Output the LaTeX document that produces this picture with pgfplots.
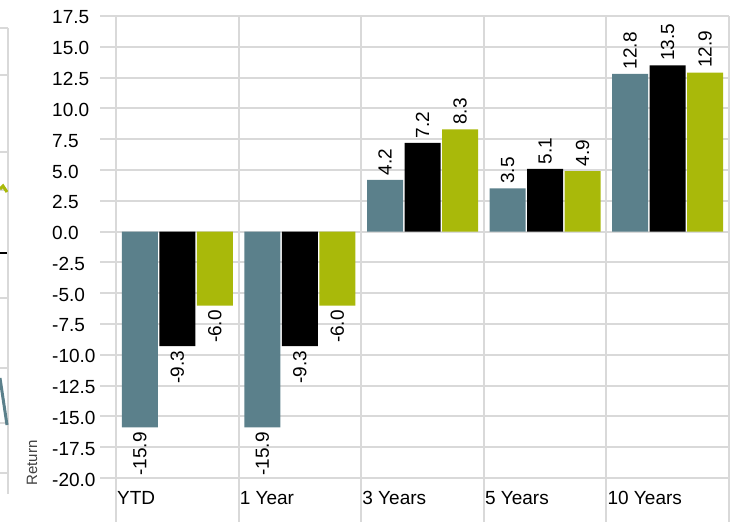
\documentclass[border=0pt]{standalone}
\usepackage{pgfplots}
\usepackage{pgfplotstable}
\pgfplotsset{compat=1.18}
\usepackage{fontspec}
\setmainfont{Liberation Sans}

\definecolor{tealbar}{HTML}{5B808B}
\definecolor{limebar}{HTML}{A9B90A}
\definecolor{gridcol}{HTML}{D9D9D9}

% series: category index, return
\pgfplotstableread{
x y
0 -15.9
1 -15.9
2 4.2
3 3.5
4 12.8
}\fundA
\pgfplotstableread{
x y
0 -9.3
1 -9.3
2 7.2
3 5.1
4 13.5
}\fundB
\pgfplotstableread{
x y
0 -6.0
1 -6.0
2 8.3
3 4.9
4 12.9
}\fundC

\pgfplotsset{
  negbars/.style={restrict y to domain=-100:0, every node near coord/.append style={anchor=north}},
  posbars/.style={restrict y to domain=0:100, every node near coord/.append style={anchor=south}},
  slot/.style={bar shift=#1, every node near coord/.append style={xshift=#1}},
}

\begin{document}
\begin{tikzpicture}
\useasboundingbox (0,0) rectangle (736pt,522pt);

% cut-off neighbour chart at the left edge (pixel coordinates)
\begin{axis}[
  width=736pt, height=522pt, scale only axis,
  xmin=0, xmax=736, ymin=0, ymax=522, y dir=reverse,
  axis lines=none, clip=true,
]
  \draw[gridcol, line width=2pt] (axis cs:8,28) -- (axis cs:8,494);
  \pgfplotsinvokeforeach{28,75,152,190,298,368,423,473}{
    \draw[gridcol, line width=2pt] (axis cs:0,#1) -- (axis cs:8,#1);
  }
  \addplot[limebar, line width=3pt] coordinates {(0,189) (3,186) (7,192)};
  \addplot[black, line width=2.5pt] coordinates {(0,253) (7,253)};
  \addplot[tealbar, line width=3pt] coordinates {(0,378) (7,425)};
\end{axis}

\begin{axis}[
  at={(116pt,44pt)}, anchor=south west,
  width=613pt, height=462pt, scale only axis,
  xmin=-0.5, xmax=4.5, ymin=-20, ymax=17.5,
  clip=false,
  axis line style={draw=none},
  major tick length=0pt,
  grid=major,
  major grid style={draw=gridcol, line width=2pt},
  xtick={-0.5,0.5,1.5,2.5,3.5,4.5},
  xticklabels={YTD,1 Year,3 Years,5 Years,10 Years,},
  ytick={-20,-17.5,-15,-12.5,-10,-7.5,-5,-2.5,0,2.5,5,7.5,10,12.5,15,17.5},
  scaled y ticks=false,
  yticklabel style={/pgf/number format/fixed, /pgf/number format/fixed zerofill,
    /pgf/number format/precision=1, /pgf/number format/assume math mode=true,
    anchor=west, inner sep=0pt, xshift=-64pt, yshift=-1.5pt},
  xticklabel style={anchor=base west, inner sep=0pt, yshift=-26pt, xshift=1pt},
  tick label style={font=\fontsize{19}{22}\selectfont, black},
  ylabel={Return},
  % label is rotated 90: xshift moves it up, yshift moves it left
  ylabel style={at={(axis description cs:0,0)}, anchor=center,
    xshift=15pt, yshift=84pt, font=\fontsize{15}{17}\selectfont, black!75},
  every axis plot/.append style={ybar, bar width=36pt, draw=none},
  nodes near coords={\rotatebox{90}{\pgfmathprintnumber[fixed,fixed zerofill,precision=1,assume math mode=true]{\pgfplotspointmeta}}},
  every node near coord/.append style={inner sep=4.5pt,
    font=\fontsize{19}{22}\selectfont, black},
]
  \addplot[fill=tealbar, slot=-37.5pt, negbars] table[x=x, y=y] {\fundA};
  \addplot[fill=tealbar, slot=-37.5pt, posbars] table[x=x, y=y] {\fundA};
  \addplot[fill=black, slot=0pt, negbars] table[x=x, y=y] {\fundB};
  \addplot[fill=black, slot=0pt, posbars] table[x=x, y=y] {\fundB};
  \addplot[fill=limebar, slot=37.5pt, negbars] table[x=x, y=y] {\fundC};
  \addplot[fill=limebar, slot=37.5pt, posbars] table[x=x, y=y] {\fundC};

  % grid lines continue below the plot and to the left of it
  \pgfplotsinvokeforeach{-0.5,0.5,1.5,2.5,3.5,4.5}{
    \draw[gridcol, line width=2pt] (axis cs:#1,-20) -- ++(0pt,-44pt);
  }
  \pgfplotsinvokeforeach{-20,-17.5,-15,-12.5,-10,-7.5,-5,-2.5,0,2.5,5,7.5,10,12.5,15,17.5}{
    \draw[gridcol, line width=2pt] (axis cs:-0.5,#1) -- ++(-16pt,0pt);
  }
\end{axis}
\end{tikzpicture}
\end{document}
